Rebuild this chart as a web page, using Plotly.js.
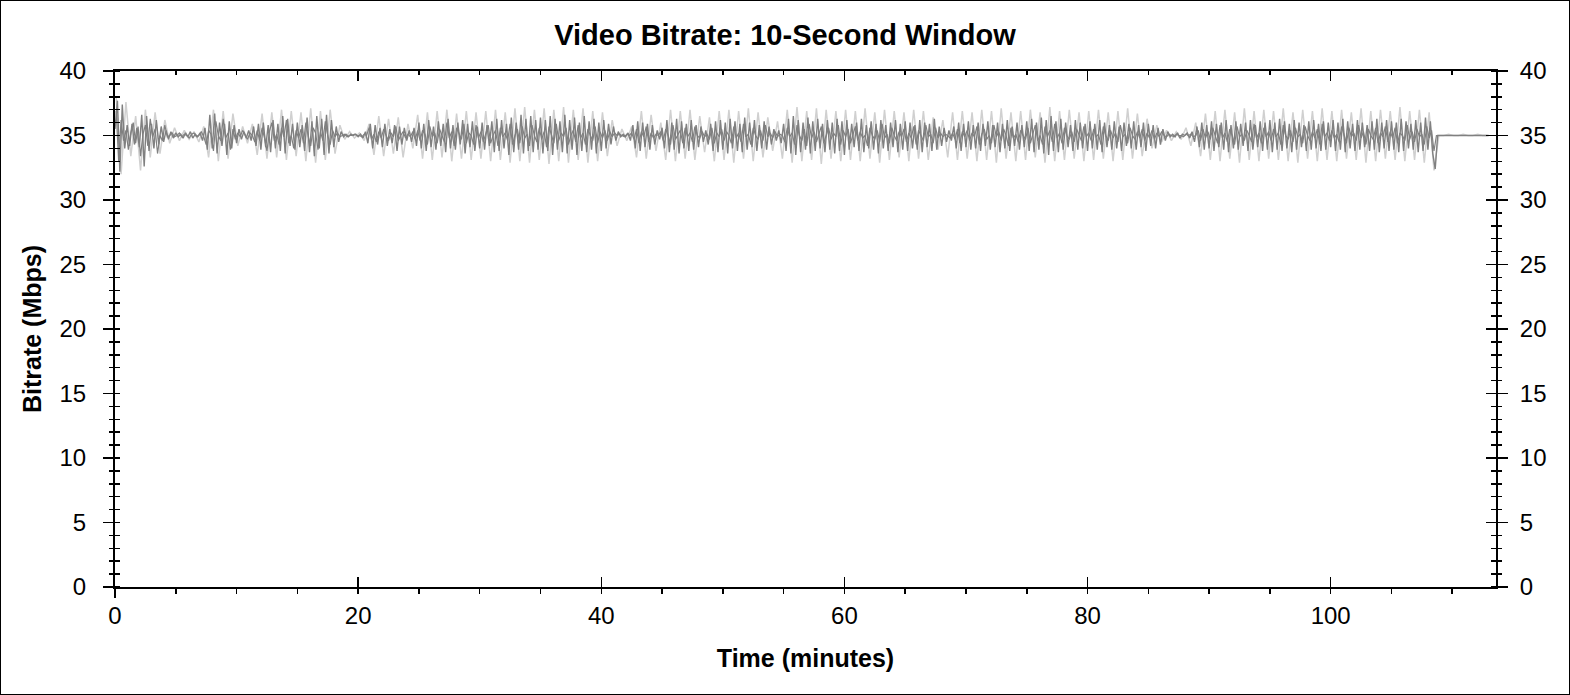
<!DOCTYPE html>
<html>
<head>
<meta charset="utf-8">
<script src="https://cdn.plot.ly/plotly-3.0.1.min.js"></script>
<style>
html,body{margin:0;padding:0;background:#fff;}
#chart{width:1568px;height:693px;border:1px solid #000;}
</style>
</head>
<body>
<div id="chart"></div>
<script>
// ---- data (Mbps) ----
const chartTitle = 'Video Bitrate: 10-Second Window';
const xTitle = 'Time (minutes)';
const yTitle = 'Bitrate (Mbps)';
const xRange = [0, 113.6];
const yRange = [0, 40];

// dark series (part A): starts at 0 min, one sample every 0.2 min
const darkStart = 0;
const darkStep = 0.2;
const darkValues = [
 35.5,37.7,32.2,37.4,34.0,35.8,34.2,35.9,34.3,35.6,34.1,36.6,32.6,36.5,33.8,35.9,34.0,36.2,34.3,35.7,34.5,35.4,34.7,35.3,34.8,
 35.2,34.9,35.1,34.8,35.2,34.9,35.3,34.8,35.1,34.9,35.2,34.6,35.6,33.9,36.6,34.0,36.7,33.6,36.0,34.2,35.9,33.5,36.1,34.0,35.8,
 34.4,35.5,34.7,35.3,34.8,35.4,34.6,35.7,34.2,35.9,33.9,36.0,34.1,35.8,33.7,36.2,34.0,35.9,33.8,36.5,33.6,36.3,34.2,35.9,33.9,
 36.0,34.1,35.8,33.8,36.4,33.7,36.1,33.4,36.5,34.0,36.3,33.5,36.6,33.6,36.2,34.1,35.7,34.5,35.3,34.9,35.1,34.9,35.1,35.0,35.1,
 34.9,35.1,34.8,35.3,34.4,35.9,34.0,35.8,34.3,35.6,34.1,35.9,34.2,35.5,34.4,35.8,33.8,35.7,34.3,35.6,34.6,35.4,34.5,35.6,34.2,
 36.0,34.0,35.9,33.8,36.2,34.1,35.7,33.9,36.1,34.2,35.9,33.7,36.3,34.0,35.8,33.9,36.0,34.3,36.2,33.6,35.9,34.1,36.1,33.8,35.7,
 34.0,36.0,33.9,35.8,34.2,36.1,33.7,36.3,33.8,36.2,34.0,35.9,33.5,36.4,33.7,36.0,33.9,36.6,33.6,36.3,33.8,36.5,33.7,36.2,33.9,
 36.4,33.6,36.2,33.8,36.5,33.5,36.3,33.9,36.1,33.7,36.6,33.6,36.2,33.9,36.4,33.5,36.0,33.8,36.5,33.7,36.1,33.9,36.3,33.6,36.0,
 33.8,36.2,34.0,35.9,34.3,35.7,34.6,35.3,34.9,35.1,34.9,35.2,34.6,35.8,34.0,36.1,33.8,36.0,34.1,35.9,33.9,35.8,34.3,35.4,34.7,
 35.6,34.0,36.2,33.7,36.0,33.9,36.3,33.6,36.1,34.0,35.9,33.8,36.2,33.9,35.8,34.1,35.7,34.5,35.4,34.3,35.9,33.8,36.1,33.7,36.2,
 33.9,36.0,33.6,36.3,34.0,36.1,33.8,35.9,33.7,36.4,33.9,36.0,34.1,36.2,33.8,35.8,34.0,36.1,33.9,35.7,34.3,35.5,34.6,35.4,34.4,
 35.9,33.8,36.3,33.6,36.5,33.5,36.2,33.7,36.0,33.9,36.4,33.6,36.1,33.8,36.3,34.0,35.9,33.7,36.2,33.9,36.0,33.6,36.3,33.8,36.1,
 33.5,36.2,33.9,35.9,34.1,36.0,33.8,36.3,33.7,35.8,34.0,36.1,33.9,35.9,33.6,36.2,34.0,35.8,33.8,36.0,34.1,36.2,33.7,35.9,33.9,
 36.1,33.8,36.0,34.0,35.8,33.9,36.2,33.7,36.0,34.1,35.9,33.8,36.3,33.9,35.7,34.2,35.6,34.5,35.4,34.6,35.7,34.0,36.0,33.8,35.9,
 34.1,36.1,33.9,35.8,34.0,36.0,33.8,35.9,34.2,36.1,33.9,35.8,34.1,36.0,33.7,35.9,34.0,36.2,33.8,35.7,34.2,36.0,33.9,35.8,34.1,
 36.1,33.8,36.3,33.7,36.0,33.9,36.4,33.6,36.2,33.5,36.5,33.8,36.1,33.7,36.3,33.9,36.0,34.1,35.8,33.8,36.2,33.9,36.0,34.0,35.9,
 33.8,36.1,34.0,35.9,33.9,36.2,33.7,36.0,34.1,35.8,33.9,36.1,34.0,35.7,33.8,36.0,34.2,35.9,34.0,36.1,33.9,35.8,34.1,36.0,33.8,
 35.9,34.2,35.8,34.0,35.6,34.3,35.5,34.6,35.3,34.9,35.1,34.9,35.2,34.8,35.1,35.0,35.2,34.8,35.3,34.5,35.7,34.1,36.0,33.9,35.8,
 34.0,36.1,33.8,35.9,34.1,36.0,33.9,36.2,33.7,35.8,34.0,36.1,33.9,35.9,34.2,36.0,33.8,36.2,33.9,35.8,34.1,36.1,33.8,36.0,33.9,
 36.2,33.7,36.0,33.9,36.3,33.8,36.1,34.0,35.9,33.7,36.2,33.9,36.0,34.1,35.8,33.8,36.1,33.9,36.2,34.0,35.9,33.8,36.1,33.9,36.0,
 34.1,36.2,33.8,36.0,33.9,36.3,33.7,36.1,34.0,35.9,33.8,36.2,33.9,36.0,34.1,35.8,33.8,36.1,33.9,36.3,33.7,36.0,34.0,36.2,33.8,
 36.1,33.9,36.0,33.7,36.3,33.8,36.1,34.0,35.9,33.9,36.2,33.7,36.0,33.8,36.4,33.9,36.1,33.6,32.4,
 35.0,35.0,35.0,35.0,35.0,35.0,35.0,35.0,35.0,35.0,35.0,35.0,35.0,35.0,35.0,35.0,35.0,35.0,35.0,35.0,35.0,35.0
];

// dark series (part B, in-between samples): starts at 0.1 min, one sample every 0.2 min
const darkBStart = 0.1;
const darkBStep = 0.2;
const darkBValues = [
 36.9,33.0,36.2,34.6,35.4,33.9,35.2,36.0,34.4,35.7,33.4,35.1,35.8,34.2,36.3,34.9,35.5,33.6,35.0,34.6,35.8,34.9,35.0,35.2,34.9,
 35.0,35.2,34.9,35.1,35.0,34.8,35.1,35.2,34.9,35.0,35.3,34.9,34.3,35.4,35.1,33.8,36.1,35.0,34.6,36.3,34.8,35.2,33.9,35.5,34.7,
 35.2,34.9,35.4,35.0,34.7,35.2,35.0,34.5,35.4,34.6,35.6,34.8,33.8,35.3,36.0,34.6,35.1,34.3,35.6,34.9,36.2,34.4,35.0,34.0,35.4,
 34.8,35.5,34.4,36.0,34.9,34.2,35.6,35.2,33.9,35.3,34.6,36.1,35.0,34.3,35.4,34.9,35.2,34.9,35.0,35.1,34.9,35.0,35.0,35.1,35.0,
 35.0,34.9,35.1,35.0,35.6,34.7,35.1,34.5,35.3,34.8,35.5,35.0,34.6,35.2,34.9,35.7,34.6,35.0,35.3,34.8,35.1,34.9,35.3,34.7,35.4,
 34.6,35.4,35.1,34.3,35.7,34.9,35.2,34.4,35.5,35.0,34.5,36.0,34.8,35.3,34.2,35.6,35.1,34.7,35.9,34.4,35.2,35.0,34.3,35.8,34.8,
 35.3,34.5,35.1,35.8,34.4,35.0,35.4,34.2,35.6,34.9,35.2,34.6,35.9,34.3,35.0,35.5,34.4,35.7,34.8,35.1,34.2,35.8,35.0,34.5,35.6,
 34.7,35.3,34.1,35.7,35.0,34.4,35.9,34.6,35.2,34.9,35.6,34.3,35.0,35.4,34.5,35.8,34.8,35.2,34.3,35.5,35.0,34.6,35.7,34.4,35.3,
 34.8,35.4,34.6,35.3,34.9,35.2,35.0,35.1,35.0,34.9,35.1,35.0,35.2,34.7,35.5,34.4,35.3,34.9,35.7,34.5,35.2,34.8,35.1,35.0,35.3,
 34.6,35.5,35.0,34.3,35.8,34.7,35.1,35.4,34.4,35.6,34.9,35.2,34.5,35.7,35.0,34.8,35.3,34.9,35.1,34.7,35.6,34.4,35.2,34.9,35.5,
 34.6,35.3,35.0,34.4,35.7,34.8,35.2,34.5,35.9,34.9,35.1,34.3,35.6,35.0,34.7,35.4,34.6,35.8,34.9,35.2,34.8,35.3,34.9,35.1,35.0,
 34.5,35.6,34.9,35.2,34.3,35.8,35.0,34.6,35.5,34.2,35.9,34.8,35.3,34.5,35.1,35.7,34.4,35.0,35.6,34.7,35.2,34.9,35.8,34.3,35.4,
 34.9,35.5,34.4,35.1,35.7,34.6,35.3,34.8,35.0,34.2,35.6,35.0,34.7,35.4,34.5,35.9,34.8,35.1,34.4,35.6,35.0,34.6,35.3,34.9,35.5,
 34.5,35.2,34.8,35.7,34.3,35.4,35.0,34.6,35.8,34.9,35.1,34.4,35.6,34.8,35.2,34.9,35.1,35.0,34.8,35.2,34.7,35.5,34.4,35.3,34.9,
 35.4,34.6,35.2,34.9,35.7,34.3,35.1,35.5,34.7,35.0,34.4,35.8,34.9,35.3,34.6,35.5,35.0,34.2,35.6,34.8,35.1,34.5,35.4,35.0,34.7,
 35.6,34.4,35.1,35.8,34.6,35.0,34.3,35.7,34.9,35.4,34.5,35.9,34.8,35.2,34.4,35.6,35.0,34.7,35.3,34.5,35.5,35.0,34.6,35.7,34.9,
 35.2,34.6,35.5,34.9,35.1,34.3,35.7,35.0,34.6,35.4,34.8,35.2,34.5,35.8,34.9,35.1,34.4,35.6,35.0,34.7,35.3,34.8,35.5,34.6,35.2,
 34.8,35.4,34.7,35.2,34.9,35.3,35.0,34.9,35.1,35.0,34.9,35.1,35.0,35.0,34.9,35.1,35.0,35.1,34.9,35.0,35.4,34.6,35.5,34.8,35.3,
 34.7,35.6,35.0,34.4,35.8,34.8,35.2,34.5,35.5,35.0,34.3,35.7,34.9,35.1,34.6,35.4,35.0,34.5,35.9,34.8,35.2,34.4,35.6,34.9,35.3,
 34.6,35.5,34.9,35.2,34.3,35.8,35.0,34.7,35.4,34.5,35.6,34.9,35.1,34.4,35.7,35.0,34.6,35.3,34.8,35.5,34.3,35.9,34.9,35.2,34.6,
 35.4,34.8,35.1,34.5,35.7,35.0,34.4,35.6,34.9,35.2,34.6,35.8,34.8,35.3,34.3,35.5,35.0,34.7,35.6,34.4,35.2,34.9,35.7,34.5,35.3,
 34.8,35.6,34.4,35.2,35.0,34.6,35.8,34.7,35.3,34.5,35.5,34.9,35.1,34.3,35.7,34.8,35.4,33.8,
 35.0,35.0,35.0,35.0,35.0,35.0,35.0,35.0,35.0,35.0,35.0,35.0,35.0,35.0,35.0,35.0,35.0,35.0,35.0,35.0,35.0,35.0
];

// light series: starts at 0.1 min, one sample every 0.4 min
const lightStart = 0.1;
const lightStep = 0.4;
const lightValues = [
 38.0,32.0,37.6,33.4,36.5,32.3,37.0,33.3,36.8,33.6,36.2,34.4,35.6,34.6,35.4,34.7,35.3,34.5,35.7,33.3,37.0,33.0,36.9,33.2,36.7,
 34.2,35.7,34.4,35.9,33.5,36.7,33.2,36.8,33.3,37.0,33.1,36.9,33.4,36.8,33.0,37.1,32.9,36.9,33.1,37.0,33.6,35.8,34.7,35.3,34.8,
 35.2,34.6,35.9,33.5,36.5,33.4,36.3,33.6,36.4,33.3,35.9,34.0,36.6,33.2,36.8,33.1,36.9,33.3,37.0,33.0,36.7,33.2,36.9,33.1,36.8,
 33.2,36.9,33.0,37.0,33.1,36.8,32.9,37.1,33.0,37.2,32.9,37.0,33.1,37.1,32.8,37.0,33.0,37.2,32.9,37.0,33.1,37.1,32.9,36.9,33.0,
 36.8,33.4,36.2,34.2,35.5,34.6,35.7,33.3,36.9,33.2,36.6,33.8,36.0,33.1,37.0,33.0,36.9,33.2,37.0,33.1,36.5,33.7,36.4,33.0,36.9,
 33.1,37.0,32.9,36.9,33.2,37.1,33.0,36.8,33.3,36.4,33.8,36.1,33.2,37.0,32.9,37.2,33.0,36.9,33.1,37.1,32.8,37.0,33.2,36.9,33.0,
 37.0,33.1,36.9,33.0,37.1,33.2,36.8,32.9,37.0,33.1,36.9,33.3,36.8,33.0,37.0,33.2,36.9,33.1,36.4,33.9,36.2,33.3,36.8,33.1,36.9,
 33.2,36.8,33.0,37.0,33.1,36.9,32.9,37.1,33.2,36.8,33.0,36.9,33.1,37.0,33.3,36.8,32.9,37.2,33.0,36.9,33.1,37.0,33.2,36.8,33.0,
 36.9,33.1,37.0,33.2,36.8,33.0,36.9,33.1,37.1,33.2,36.7,33.4,36.3,34.0,35.8,34.5,35.4,34.6,35.3,34.7,35.6,34.2,36.0,33.4,36.7,
 33.1,36.9,33.0,37.0,33.2,36.8,32.9,37.1,33.1,36.9,33.0,37.0,33.2,36.9,33.1,37.1,33.0,36.8,32.9,37.0,33.2,36.9,33.0,37.1,33.1,
 36.9,33.0,37.0,33.2,36.8,33.1,37.1,32.9,36.9,33.0,37.0,33.2,36.9,33.1,37.2,33.0,36.9,33.1,37.0,32.9,36.8,32.3,
 35.0,35.0,35.1,35.0,35.0,35.1,35.0,35.0,35.1,35.0,35.0
];

// ---- styling ----
const FONT = 'Liberation Sans, Arial, Helvetica, sans-serif';
const darkColor = '#808080';
const lightColor = '#d0d0d0';

const traces = [
  {type:'scatter', mode:'lines', x0:lightStart, dx:lightStep, y:lightValues,
   line:{color:lightColor, width:1.5}, xaxis:'x', yaxis:'y', hoverinfo:'skip', showlegend:false},
  {type:'scatter', mode:'lines', x0:darkBStart, dx:darkBStep, y:darkBValues,
   line:{color:darkColor, width:1.2}, xaxis:'x', yaxis:'y', hoverinfo:'skip', showlegend:false},
  {type:'scatter', mode:'lines', x0:darkStart, dx:darkStep, y:darkValues,
   line:{color:darkColor, width:1.4}, xaxis:'x', yaxis:'y', hoverinfo:'skip', showlegend:false},
  // empty traces so the decorative overlay axes get drawn
  {type:'scatter', x:[], y:[], xaxis:'x2', yaxis:'y', showlegend:false, hoverinfo:'skip'},
  {type:'scatter', x:[], y:[], xaxis:'x3', yaxis:'y', showlegend:false, hoverinfo:'skip'},
  {type:'scatter', x:[], y:[], xaxis:'x', yaxis:'y2', showlegend:false, hoverinfo:'skip'},
  {type:'scatter', x:[], y:[], xaxis:'x', yaxis:'y3', showlegend:false, hoverinfo:'skip'},
  {type:'scatter', x:[], y:[], xaxis:'x', yaxis:'y4', showlegend:false, hoverinfo:'skip'}
];

const tickFont = {family:FONT, size:24, color:'#000'};
const base = {showgrid:false, zeroline:false, fixedrange:true, linecolor:'#000', tickcolor:'#000', tickwidth:1.5};

const layout = {
  width:1568, height:693,
  margin:{l:114, r:73, t:70, b:107, pad:0},
  paper_bgcolor:'#fff', plot_bgcolor:'#fff',
  font:{family:FONT, color:'#000'},
  showlegend:false,
  hovermode:false,
  title:{text:'<b>'+chartTitle+'</b>', font:{family:FONT, size:29, color:'#000'},
         x:0.5, xref:'container', xanchor:'center', y:0.951, yref:'container', yanchor:'middle'},
  xaxis: Object.assign({}, base, {
    range:xRange, showline:true, linewidth:2, side:'bottom',
    ticks:'inside', ticklen:10, tick0:0, dtick:20,
    tickfont:tickFont, ticklabelstandoff:6,
    minor:{ticks:'outside', ticklen:5, dtick:5, tick0:0, tickwidth:1.5, tickcolor:'#000', showgrid:false},
    title:{text:'<b>'+xTitle+'</b>', font:{family:FONT, size:25, color:'#000'}, standoff:22}
  }),
  xaxis2: Object.assign({}, base, {
    range:xRange, overlaying:'x', anchor:'y', side:'top', showline:true, linewidth:2,
    ticks:'inside', ticklen:10, tick0:0, dtick:20, showticklabels:false,
    minor:{ticks:'inside', ticklen:4, dtick:5, tick0:0, tickwidth:1.5, tickcolor:'#000', showgrid:false}
  }),
  xaxis3: Object.assign({}, base, {
    range:xRange, overlaying:'x', anchor:'y', side:'bottom', showline:false,
    ticks:'outside', ticklen:10, tickmode:'array', tickvals:[0], showticklabels:false, tickwidth:2
  }),
  yaxis: Object.assign({}, base, {
    range:yRange, showline:true, linewidth:2, side:'left',
    ticks:'outside', ticklen:10, tick0:0, dtick:5,
    tickfont:tickFont, ticklabelstandoff:12,
    minor:{ticks:'inside', ticklen:5, dtick:1, tick0:0, tickwidth:1.5, tickcolor:'#000', showgrid:false},
    title:{text:'<b>'+yTitle+'</b>', font:{family:FONT, size:25, color:'#000'}, standoff:11}
  }),
  yaxis3: Object.assign({}, base, {
    range:yRange, overlaying:'y', anchor:'x', side:'left', showline:false,
    ticks:'outside', ticklen:5, tick0:0, dtick:1, showticklabels:false
  }),
  yaxis2: Object.assign({}, base, {
    range:yRange, overlaying:'y', anchor:'x', side:'right', showline:true, linewidth:2,
    ticks:'outside', ticklen:10, tick0:0, dtick:5,
    tickfont:tickFont, ticklabelstandoff:7,
    minor:{ticks:'inside', ticklen:5, dtick:1, tick0:0, tickwidth:1.5, tickcolor:'#000', showgrid:false}
  }),
  yaxis4: Object.assign({}, base, {
    range:yRange, overlaying:'y', anchor:'x', side:'right', showline:false,
    ticks:'inside', ticklen:10, tick0:0, dtick:5, showticklabels:false,
    minor:{ticks:'outside', ticklen:5, dtick:1, tick0:0, tickwidth:1.5, tickcolor:'#000', showgrid:false}
  })
};

Plotly.newPlot('chart', traces, layout, {displayModeBar:false, staticPlot:true, responsive:false});
</script>
</body>
</html>
